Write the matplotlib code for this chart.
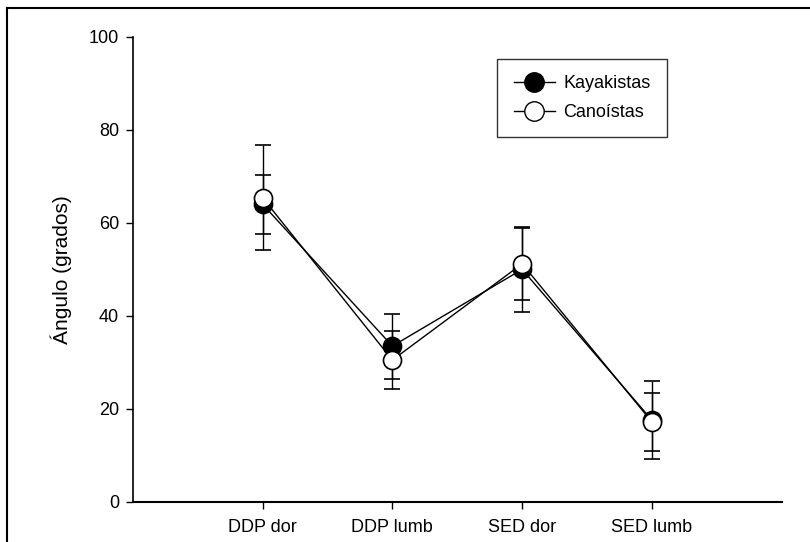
import matplotlib
matplotlib.use('Agg')
import matplotlib.pyplot as plt
from matplotlib.lines import Line2D

plt.rcParams['font.family'] = ['Liberation Sans', 'DejaVu Sans']

# Datos
categorias = ['DDP dor', 'DDP lumb', 'SED dor', 'SED lumb']
kayak_media = [64.0, 33.5, 50.0, 17.6]
kayak_de = [6.3, 7.0, 9.2, 8.4]
canoa_media = [65.4, 30.5, 51.2, 17.2]
canoa_de = [11.3, 6.3, 7.8, 6.2]

x = [1, 2, 3, 4]

fig = plt.figure(figsize=(8.1, 5.42), dpi=100)
ax = fig.add_axes([0.164, 0.074, 0.801, 0.858])

ax.errorbar(x, kayak_media, yerr=kayak_de, color='black', lw=1, elinewidth=1,
            capsize=6, capthick=1, marker='o', markersize=13,
            markerfacecolor='black', markeredgecolor='black', markeredgewidth=1.2,
            label='Kayakistas', zorder=3)
ax.errorbar(x, canoa_media, yerr=canoa_de, color='black', lw=1, elinewidth=1,
            capsize=6, capthick=1, marker='o', markersize=13,
            markerfacecolor='white', markeredgecolor='black', markeredgewidth=1.2,
            label='Canoístas', zorder=4)

ax.set_xlim(0, 5)
ax.set_ylim(0, 100)
ax.set_yticks([0, 20, 40, 60, 80, 100])
ax.set_xticks(x)
ax.set_xticklabels(categorias)
ax.set_ylabel('Ángulo (grados)', fontsize=15, labelpad=12)
ax.tick_params(axis='both', labelsize=13, direction='out', length=5, width=1)
ax.tick_params(axis='y', pad=5)
ax.tick_params(axis='x', pad=7)

ax.spines['top'].set_visible(False)
ax.spines['right'].set_visible(False)
ax.spines['left'].set_linewidth(1.2)
ax.spines['bottom'].set_linewidth(1.5)

h1 = Line2D([], [], color='black', lw=1, marker='o', markersize=14,
            markerfacecolor='black', markeredgecolor='black')
h2 = Line2D([], [], color='black', lw=1, marker='o', markersize=14,
            markerfacecolor='white', markeredgecolor='black')
leg = ax.legend([h1, h2], ['Kayakistas', 'Canoístas'], loc='upper left',
                bbox_to_anchor=(0.562, 0.952), fontsize=13, frameon=True,
                fancybox=False, edgecolor='black', handlelength=2.3,
                borderpad=0.9, labelspacing=0.65, handletextpad=0.45,
                borderaxespad=0)
leg.get_frame().set_linewidth(1)

# marco de la figura
fig.add_artist(Line2D([7/810, 7/810], [0, 1 - 8/542], color='black', lw=1.5))
fig.add_artist(Line2D([7/810, 1], [1 - 8/542, 1 - 8/542], color='black', lw=1.5))

fig.savefig('out.png', dpi=100)
